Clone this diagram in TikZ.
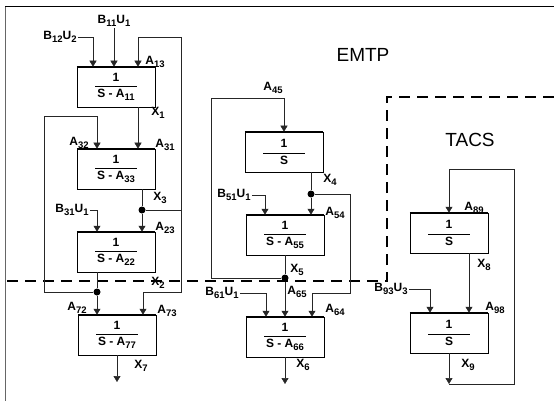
\documentclass[tikz,border=0pt]{standalone}
\usepackage{fontspec}
\setmainfont{Liberation Sans}
\usetikzlibrary{arrows.meta}

\newcommand{\xs}[1]{\raisebox{-0.45ex}{\fontsize{9.5}{10}\selectfont#1}}
\newcommand{\frc}[1]{$\displaystyle\frac{\mbox{1}}{\makebox[42pt]{#1}}$}

\begin{document}
\begin{tikzpicture}[x=1pt, y=-1pt, >={Triangle[width=7pt,length=6pt]},
    blk/.style={draw, line width=0.5pt, minimum width=78pt, minimum height=40pt, inner sep=0pt, font=\fontsize{12}{14}\bfseries},
    lbl/.style={font=\fontsize{12}{14}\bfseries, inner sep=1pt},
    big/.style={font=\fontsize{19}{22}\selectfont},
    wire/.style={line width=0.5pt, black!85},
    jdot/.style={circle, fill, inner sep=0pt, minimum size=7pt}]
    \useasboundingbox (0,0) rectangle (554,401);

    % frame and EMTP / TACS border
    \draw[line width=1pt] (5,7) -- (554,7);
    \draw[line width=0.4pt, black!60] (5,7) -- (5,401);
    \draw[line width=1.6pt, dash pattern=on 11pt off 7pt] (7,281) -- (387,281) -- (387,97) -- (554,97);
    \node[big] (emtp) at (363,55) {EMTP};
    \node[big] (tacs) at (470,140) {TACS};

    % blocks
    \node[blk] (b1) at (116,87) {\frc{S - A\xs{11}}};
    \node[blk] (b3) at (116,169) {\frc{S - A\xs{33}}};
    \node[blk] (b2) at (116,252) {\frc{S - A\xs{22}}};
    \node[blk] (b7) at (117,335) {\frc{S - A\xs{77}}};
    \node[blk] (b4) at (284,152) {\frc{S}};
    \node[blk] (b5) at (285,235) {\frc{S - A\xs{55}}};
    \node[blk] (b6) at (285,337) {\frc{S - A\xs{66}}};
    \node[blk] (b8) at (449,233) {\frc{S}};
    \node[blk] (b9) at (449,333) {\frc{S}};
    \foreach \b in {b1,b3,b2,b7,b4,b5,b6,b8,b9}
        \draw[line width=1.3pt] (\b.north west) -- (\b.north east);

    % branch points
    \node[jdot] (d3) at (142,210) {};
    \node[jdot] (d2) at (97,292) {};
    \node[jdot] (d4) at (311,194) {};
    \node[jdot] (d5) at (285,278) {};
    \coordinate (o7) at (117,382);
    \coordinate (o6) at (285,384);
    \coordinate (o9) at (449,384);

    % inputs
    \node[lbl] (u12) at (60,37) {B\xs{12}U\xs{2}};
    \node[lbl] (u11) at (114,21) {B\xs{11}U\xs{1}};
    \node[lbl] (u31) at (72,210) {B\xs{31}U\xs{1}};
    \node[lbl] (u51) at (234,195) {B\xs{51}U\xs{1}};
    \node[lbl] (u61) at (222,293) {B\xs{61}U\xs{1}};
    \node[lbl] (u93) at (391,289) {B\xs{93}U\xs{3}};

    % left column
    \draw[wire,->] (u12.east) -| (93,0 |- b1.north);
    \draw[wire,->] (u11.south) -- (u11.south |- b1.north);
    \draw[wire,->] (d3) -| (181,37) -| (138,0 |- b1.north);
    \draw[wire,->] (138,0 |- b1.south) -- (138,0 |- b3.north);
    \draw[wire,->] (d2) -| (44,116) -| (97,0 |- b3.north);
    \draw[wire] (142,0 |- b3.south) -- (d3);
    \draw[wire,->] (d3) -- (142,0 |- b2.north);
    \draw[wire,->] (u31.east) -| (97,0 |- b2.north);
    \draw[wire] (97,0 |- b2.south) -- (d2);
    \draw[wire,->] (d2) -- (97,0 |- b7.north);
    \draw[wire,->] (d3 -| 181,0) |- (143,292) -- (143,0 |- b7.north);
    \draw[wire,->] (b7.south) -- (o7);

    % middle column
    \draw[wire,->] (d5) -| (211,98) -| (b4.north);
    \draw[wire] (311,0 |- b4.south) -- (d4);
    \draw[wire,->] (d4) -- (311,0 |- b5.north);
    \draw[wire,->] (u51.east) -| (265,0 |- b5.north);
    \draw[wire] (b5.south) -- (d5);
    \draw[wire,->] (d5) -- (b6.north);
    \draw[wire,->] (d4) -| (350,293) -| (312,0 |- b6.north);
    \draw[wire,->] (u61.east) -| (266,0 |- b6.north);
    \draw[wire,->] (b6.south) -- (o6);

    % TACS column
    \draw[wire,->] (469,0 |- b8.south) -- (469,0 |- b9.north);
    \draw[wire,->] (u93.east) -| (430,0 |- b9.north);
    \draw[wire,->] (b9.south) -- (o9);
    \draw[wire,->] (o9) -| (514,169) -| (b8.north);

    % coefficient and state labels
    \node[lbl] (a13) at (155,62) {A\xs{13}};
    \node[lbl] (x1) at (158,113) {X\xs{1}};
    \node[lbl] (a32) at (79,143) {A\xs{32}};
    \node[lbl] (a31) at (165,145) {A\xs{31}};
    \node[lbl] (x3) at (160,198) {X\xs{3}};
    \node[lbl] (a23) at (165,228) {A\xs{23}};
    \node[lbl] (x2) at (158,283) {X\xs{2}};
    \node[lbl] (a72) at (77,308) {A\xs{72}};
    \node[lbl] (a73) at (167,311) {A\xs{73}};
    \node[lbl] (x7) at (141,366) {X\xs{7}};
    \node[lbl] (a45) at (273,88) {A\xs{45}};
    \node[lbl] (x4) at (330,180) {X\xs{4}};
    \node[lbl] (a54) at (335,213) {A\xs{54}};
    \node[lbl] (x5) at (297,270) {X\xs{5}};
    \node[lbl] (a65) at (297,292) {A\xs{65}};
    \node[lbl] (a64) at (335,310) {A\xs{64}};
    \node[lbl] (x6) at (303,365) {X\xs{6}};
    \node[lbl] (a89) at (474,208) {A\xs{89}};
    \node[lbl] (x8) at (484,265) {X\xs{8}};
    \node[lbl] (a98) at (495,308) {A\xs{98}};
    \node[lbl] (x9) at (468,365) {X\xs{9}};
\end{tikzpicture}
\end{document}
